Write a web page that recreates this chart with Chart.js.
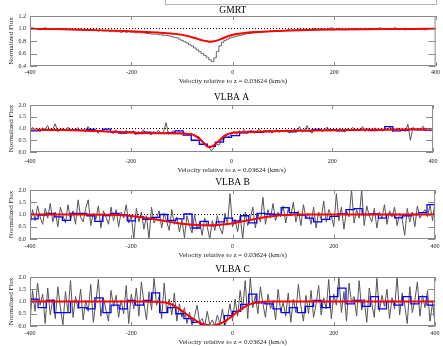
<!DOCTYPE html>
<html>
<head>
<meta charset="utf-8">
<title>HI absorption spectra</title>
<script src="https://cdn.jsdelivr.net/npm/chart.js@4.4.0/dist/chart.umd.min.js"></script>
<style>
  html, body { margin: 0; padding: 0; background: #fff; overflow: hidden; }
  #wrap { position: relative; width: 443px; height: 346px; overflow: hidden; }
  #wrap canvas { position: absolute; left: 0; }
  .legendBox { position: absolute; left: 165px; top: -6px; width: 270px; height: 9px; border: 1px solid #b4b4b4; }
</style>
</head>
<body>
<div id="wrap">
  <div class="legendBox"></div>
</div>
<script>
// velocity grid (km/s): raw channels every 5 km/s, binned spectra every 16 km/s
const velMin = -400;
const velMax = 400;
const chanWidth = 5;
const binWidth = 16;
const continuumLevel = 1.0;

const xTicks = [-400, -200, 0, 200, 400];
const gmrtYTicks = [0.4, 0.6, 0.8, 1.0, 1.2];
const vlbaYTicks = [0.0, 0.5, 1.0, 1.5, 2.0];

// GMRT
const gmrtFlux = [
  1.00,1.01,0.99,1.00,1.00,0.99,1.01,1.00,0.99,1.00,1.00,0.99,1.00,0.99,1.00,0.99,0.99,0.98,0.99,0.98,0.99,
  0.98,0.98,0.97,0.98,0.97,0.97,0.96,0.97,0.96,0.96,0.96,0.95,0.96,0.95,0.95,0.94,0.95,0.94,0.95,0.94,
  0.94,0.93,0.94,0.93,0.93,0.92,0.92,0.91,0.91,0.91,0.90,0.90,0.89,0.89,0.88,0.87,0.86,0.85,0.83,0.81,
  0.79,0.77,0.74,0.72,0.69,0.66,0.63,0.60,0.57,0.54,0.50,0.47,0.53,0.63,0.72,0.78,0.81,0.83,0.85,0.86,
  0.87,0.88,0.89,0.90,0.91,0.92,0.92,0.93,0.93,0.94,0.94,0.95,0.95,0.95,0.96,0.96,0.96,0.97,0.96,0.97,
  0.97,0.98,0.97,0.98,0.98,0.99,0.98,0.99,0.99,0.98,0.99,1.00,0.99,0.99,1.00,0.99,0.99,1.00,1.01,0.99,
  0.99,1.00,0.99,0.98,0.99,0.99,1.00,0.99,1.00,0.99,0.99,1.00,0.99,1.00,1.00,0.99,1.00,1.01,1.00,0.99,
  1.00,0.99,1.00,1.01,0.99,0.99,1.00,0.98,0.99,0.99,1.00,0.99,0.99,1.00,0.99,0.98,0.99,0.99,1.00,0.99
];
const gmrtFitVel = [-400,-350,-300,-250,-200,-160,-130,-110,-95,-80,-70,-60,-50,-45,-40,-30,-20,-10,0,15,30,50,75,100,150,200,300,400];
const gmrtFit = [0.995,0.99,0.98,0.97,0.955,0.94,0.925,0.91,0.89,0.86,0.835,0.81,0.795,0.79,0.792,0.81,0.84,0.875,0.90,0.92,0.935,0.945,0.955,0.965,0.975,0.985,0.99,0.995];

// VLBA A
const vlbaAFlux = [
  0.88,1.05,0.92,0.98,0.85,1.02,0.95,1.12,0.90,0.97,1.20,0.86,0.94,1.00,0.91,1.06,0.89,0.97,0.93,1.04,0.90,
  0.95,0.85,1.08,0.92,0.88,0.99,0.80,0.93,0.87,1.02,0.84,0.90,0.78,0.95,0.83,0.88,0.76,0.92,0.85,0.80,
  0.90,0.74,0.86,0.82,0.95,0.79,0.84,0.72,0.88,0.80,0.93,0.78,0.85,1.25,0.75,0.83,0.90,0.77,0.86,0.80,
  0.85,0.76,0.72,0.80,0.70,0.62,0.66,0.50,0.42,0.30,0.22,0.05,0.18,0.35,0.28,0.52,0.55,0.70,0.64,0.78,
  0.88,0.75,0.90,0.82,0.95,0.80,0.86,0.92,0.79,0.88,0.98,0.83,0.90,0.85,0.94,0.81,0.89,0.96,0.84,0.91,
  0.86,0.95,0.82,0.90,0.98,0.87,1.08,0.84,0.93,1.12,0.88,0.80,0.95,0.90,0.99,0.86,0.94,1.06,0.89,0.92,
  0.97,0.88,1.02,0.91,0.85,0.99,0.93,1.05,0.89,0.96,0.92,1.08,0.87,0.98,0.94,0.90,1.03,0.92,0.97,0.88,
  1.00,0.94,1.08,0.86,0.97,1.02,0.90,0.95,0.88,1.18,0.50,1.05,0.92,1.00,0.96,1.10,0.93,0.98,0.91,1.03
];
const vlbaABinned = [
  0.90,0.92,0.93,0.95,0.93,0.95,0.92,0.96,0.90,0.97,
  0.86,0.80,0.85,0.78,0.84,0.80,0.79,0.82,0.90,0.72,
  0.50,0.33,0.24,0.42,0.62,0.70,0.82,0.88,0.84,0.89,
  0.88,0.90,0.86,0.92,0.90,0.96,0.92,0.94,0.90,0.95,
  0.93,0.96,0.91,0.94,1.08,0.90,0.92,0.96,0.94,0.93
];
const vlbaAFitVel = [-400,-350,-300,-250,-200,-150,-100,-85,-77,-70,-64,-57,-51,-45,-40,-35,-25,-18,-12,0,20,67,100,200,300,400];
const vlbaAFit = [0.96,0.94,0.92,0.87,0.83,0.80,0.79,0.77,0.74,0.67,0.56,0.42,0.29,0.21,0.22,0.29,0.48,0.62,0.72,0.81,0.84,0.87,0.89,0.93,0.95,0.97];

// VLBA B
const vlbaBFlux = [
  0.55,1.20,0.75,1.35,0.90,0.60,1.25,0.85,1.45,0.70,1.10,0.50,1.30,0.95,0.65,1.40,0.80,1.15,0.60,1.60,0.90,
  0.70,1.25,1.60,0.55,1.05,0.80,1.35,0.45,1.15,0.90,0.60,1.30,0.75,1.20,0.50,1.10,0.85,1.40,0.65,0.95,
  0.00,1.25,0.70,1.10,0.40,0.95,0.00,1.30,0.65,0.85,1.15,0.45,1.05,0.70,0.35,1.20,0.60,0.90,0.30,0.80,
  0.05,0.95,0.55,0.25,1.00,0.40,0.70,0.15,0.85,0.50,0.00,0.75,0.35,0.95,0.45,0.20,1.05,0.60,1.85,0.50,
  0.80,0.30,0.95,0.00,1.10,0.55,0.85,1.30,0.45,1.05,0.70,1.70,0.60,1.20,0.85,1.45,0.75,1.10,0.90,1.35,
  0.65,1.25,0.95,1.50,0.70,1.15,0.55,1.40,0.85,1.05,0.60,1.30,0.45,1.10,0.80,1.55,0.70,1.20,0.95,0.50,
  1.85,0.75,1.30,0.40,1.15,0.90,2.00,0.65,1.20,0.85,2.00,0.55,1.35,0.95,0.70,1.25,0.45,1.10,0.85,1.40,
  0.60,1.15,0.90,1.30,0.55,1.05,0.80,0.15,1.25,0.70,1.10,0.50,1.35,0.85,1.05,1.20,0.90,1.40,0.75,1.60
];
const vlbaBBinned = [
  0.82,0.98,1.05,0.90,0.76,1.05,1.04,0.95,0.72,0.96,
  1.04,0.98,0.74,0.90,0.80,0.88,1.00,0.76,0.82,1.02,
  0.45,0.72,0.55,0.70,0.85,0.74,0.95,0.66,1.05,1.02,
  1.00,1.28,1.08,0.98,0.85,0.70,0.80,0.92,1.02,1.20,
  1.24,1.00,1.02,0.85,1.00,0.86,0.95,1.00,1.08,1.40
];
const vlbaBFitVel = [-400,-300,-240,-210,-190,-170,-150,-130,-110,-90,-70,-50,-30,-10,0,10,25,40,55,70,85,100,120,150,250,400];
const vlbaBFit = [1.00,1.00,0.99,0.96,0.92,0.86,0.80,0.72,0.65,0.60,0.57,0.56,0.57,0.61,0.64,0.68,0.74,0.80,0.86,0.91,0.95,0.98,0.995,1.00,1.00,1.00];

// VLBA C
const vlbaCFlux = [
  0.20,1.45,0.60,1.75,0.85,1.30,0.10,1.55,0.45,1.10,0.30,1.60,0.75,0.05,1.40,0.55,1.85,0.35,1.20,0.70,1.50,
  0.25,1.05,0.60,1.70,0.15,0.95,1.90,0.40,1.15,0.65,0.20,1.45,0.80,1.25,0.35,1.05,0.50,1.65,0.10,1.30,
  0.70,1.55,0.40,1.80,0.95,0.25,1.40,0.65,1.95,0.85,1.20,0.30,1.75,0.55,1.10,0.45,1.35,0.20,0.90,0.35,
  0.75,0.10,0.55,0.00,0.40,0.85,0.15,0.30,0.00,0.60,0.05,0.25,0.00,0.45,0.10,0.70,0.00,0.35,0.90,0.20,
  1.10,0.40,1.45,0.65,1.85,0.30,2.00,0.75,1.25,0.50,1.60,0.90,0.35,1.30,0.70,1.05,0.25,1.50,0.60,0.95,
  0.40,1.35,0.15,1.10,0.55,1.70,0.80,0.20,1.25,0.50,1.45,0.35,0.90,1.65,0.45,1.15,0.70,1.90,0.30,1.30,
  0.85,2.00,0.55,1.40,0.20,1.75,0.95,1.20,0.40,1.85,0.65,1.10,0.15,1.55,0.90,0.35,1.95,0.60,1.25,0.80,
  1.50,0.30,1.15,0.70,2.00,0.45,1.35,0.85,0.10,1.60,0.55,1.05,1.80,0.40,1.25,0.75,1.45,0.20,0.95,0.05
];
const vlbaCBinned = [
  1.10,0.75,1.05,0.55,0.55,1.00,0.75,0.70,1.15,0.55,
  0.85,0.70,1.05,0.85,1.05,1.35,0.55,0.75,0.50,0.30,
  0.15,0.06,0.00,0.00,0.42,0.60,0.88,1.30,0.95,0.90,
  0.70,0.55,0.75,0.55,0.80,1.05,0.75,1.20,1.55,0.90,
  1.05,0.80,1.20,0.70,1.00,0.85,1.20,0.90,1.20,0.85
];
const vlbaCFitVel = [-400,-200,-170,-150,-140,-130,-120,-110,-100,-90,-80,-70,-60,-50,-44,-40,-30,-20,-10,0,10,20,30,40,50,60,80,100,400];
const vlbaCFit = [1.00,1.00,0.995,0.985,0.97,0.95,0.88,0.76,0.62,0.47,0.32,0.19,0.09,0.03,0.01,0.02,0.06,0.14,0.26,0.42,0.58,0.73,0.85,0.93,0.97,0.99,1.00,1.00,1.00];

const serif = "'Liberation Serif', 'Times New Roman', serif";

// page layout of each panel (pixel rows of title, plot box, tick labels, axis title)
const panels = [
  { title: 'GMRT',   titleY: 10,  plotTop: 16,  plotBottom: 66,  tickY: 72.5, axisTitleY: 81,
    yMin: 0.4, yMax: 1.2, yTicks: gmrtYTicks, flux: gmrtFlux, binned: null, fitVel: gmrtFitVel, fit: gmrtFit },
  { title: 'VLBA A', titleY: 97,  plotTop: 105, plotBottom: 152, tickY: 161,  axisTitleY: 170,
    yMin: 0, yMax: 2, yTicks: vlbaYTicks, flux: vlbaAFlux, binned: vlbaABinned, fitVel: vlbaAFitVel, fit: vlbaAFit },
  { title: 'VLBA B', titleY: 182, plotTop: 190, plotBottom: 239, tickY: 246,  axisTitleY: 255.5,
    yMin: 0, yMax: 2, yTicks: vlbaYTicks, flux: vlbaBFlux, binned: vlbaBBinned, fitVel: vlbaBFitVel, fit: vlbaBFit },
  { title: 'VLBA C', titleY: 269, plotTop: 277, plotBottom: 326, tickY: 333,  axisTitleY: 342.5,
    yMin: 0, yMax: 2, yTicks: vlbaYTicks, flux: vlbaCFlux, binned: vlbaCBinned, fitVel: vlbaCFitVel, fit: vlbaCFit }
];

const plotLeft = 30;
const plotRight = 436;
const titleSize = 9.5, tickSize = 6, labelSize = 7;

// plot frame with inward ticks on all four sides
const framePlugin = {
  id: 'frame',
  afterDatasetsDraw(chart) {
    const { ctx, chartArea: a, scales: { x, y } } = chart;
    ctx.save();
    ctx.strokeStyle = '#8a8a8a';
    ctx.lineWidth = 1;
    ctx.strokeRect(a.left + 0.5, a.top + 0.5, a.width - 1, a.height - 1);
    ctx.beginPath();
    x.ticks.forEach(t => {
      const px = Math.round(x.getPixelForValue(t.value)) + 0.5;
      ctx.moveTo(px, a.top); ctx.lineTo(px, a.top + 4);
      ctx.moveTo(px, a.bottom); ctx.lineTo(px, a.bottom - 4);
    });
    y.ticks.forEach(t => {
      const py = Math.round(y.getPixelForValue(t.value)) + 0.5;
      ctx.moveTo(a.left, py); ctx.lineTo(a.left + 7, py);
      ctx.moveTo(a.right, py); ctx.lineTo(a.right - 7, py);
    });
    ctx.stroke();
    ctx.restore();
  }
};

const wrap = document.getElementById('wrap');

panels.forEach(p => {
  const canvasTop = p.titleY - 8;
  const canvasHeight = Math.round(p.axisTitleY + 6 - canvasTop);
  const canvas = document.createElement('canvas');
  canvas.width = 443;
  canvas.height = canvasHeight;
  canvas.style.top = canvasTop + 'px';
  wrap.appendChild(canvas);

  const titleLH = titleSize * 1.2, tickLH = tickSize * 1.2, labelLH = labelSize * 1.2;
  const xAxisHeight = canvasHeight - (p.plotBottom - canvasTop);

  const datasets = [];
  datasets.push({
    data: p.fitVel.map((v, i) => ({ x: v, y: p.fit[i] })),
    borderColor: '#ff0000', borderWidth: 2, cubicInterpolationMode: 'monotone'
  });
  if (p.binned) {
    const steps = p.binned.map((f, i) => ({ x: velMin + i * binWidth, y: f }));
    steps.push({ x: velMax, y: p.binned[p.binned.length - 1] });
    datasets.push({ data: steps, borderColor: '#0000ff', borderWidth: 1.3, stepped: 'before' });
  }
  // raw channels: histogram for GMRT, plain trace for the noisier VLBA spectra
  datasets.push({
    data: p.flux.map((f, i) => ({ x: velMin + i * chanWidth, y: f })),
    borderColor: p.binned ? '#555555' : '#404040',
    borderWidth: p.binned ? 1 : 0.8,
    stepped: p.binned ? false : 'middle'
  });
  datasets.push({
    data: [{ x: velMin, y: continuumLevel }, { x: velMax, y: continuumLevel }],
    borderColor: '#000', borderWidth: 1, borderDash: [1, 2]
  });

  new Chart(canvas, {
    type: 'line',
    data: { datasets: datasets.map(d => Object.assign({ pointRadius: 0, fill: false }, d)) },
    plugins: [framePlugin],
    options: {
      responsive: false,
      animation: false,
      devicePixelRatio: 1,
      layout: { padding: { left: 0, right: 443 - plotRight, top: 0, bottom: 0 } },
      plugins: {
        legend: { display: false },
        tooltip: { enabled: false },
        title: {
          display: true, text: p.title, color: '#000', fullSize: false,
          font: { family: serif, size: titleSize, weight: 'normal', lineHeight: 1.2 },
          padding: { top: p.titleY - canvasTop - titleLH / 2, bottom: p.plotTop - p.titleY - titleLH / 2 }
        }
      },
      scales: {
        x: {
          type: 'linear', min: velMin, max: velMax,
          grid: { display: false, drawTicks: false },
          border: { display: false },
          afterBuildTicks: s => { s.ticks = xTicks.map(v => ({ value: v })); },
          afterFit: s => { s.height = xAxisHeight; },
          ticks: {
            color: '#1a1a1a', font: { family: serif, size: tickSize }, maxRotation: 0, autoSkip: false,
            padding: p.tickY - p.plotBottom - tickLH / 2,
            callback: v => String(v)
          },
          title: {
            display: true, text: 'Velocity relative to z = 0.03624 (km/s)', color: '#1a1a1a',
            font: { family: serif, size: labelSize }, padding: { top: 0, bottom: canvasHeight - (p.axisTitleY - canvasTop) - labelLH / 2 }
          }
        },
        y: {
          type: 'linear', min: p.yMin, max: p.yMax,
          grid: { display: false, drawTicks: false },
          border: { display: false },
          afterBuildTicks: s => { s.ticks = p.yTicks.map(v => ({ value: v })); },
          afterFit: s => { s.width = plotLeft; },
          ticks: {
            color: '#1a1a1a', font: { family: serif, size: tickSize }, autoSkip: false, padding: 4,
            callback: v => Number(v).toFixed(1)
          },
          title: {
            display: true, text: 'Normalized Flux', color: '#1a1a1a',
            font: { family: serif, size: labelSize }, padding: { top: 6.5, bottom: 0 }
          }
        }
      }
    }
  });
});
</script>
</body>
</html>
